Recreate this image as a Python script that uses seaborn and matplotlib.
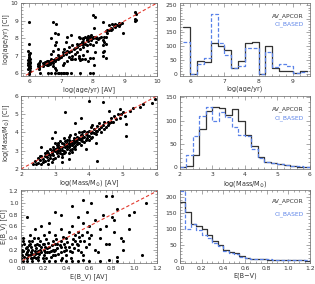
import numpy as np
import pandas as pd
import matplotlib
matplotlib.use("Agg")
import matplotlib.pyplot as plt
from matplotlib.ticker import AutoMinorLocator
import seaborn as sns

sns.set_style("ticks")
plt.rcParams['font.family'] = ['DejaVu Sans']

# ---- scatter data (x = AV_APCOR, y = CI_BASED) ----
age_pts = [
    (6.0,5.95),(6.0,6.05),(6.02,6.15),(5.98,6.25),(6.0,6.35),(6.02,6.4),(5.98,6.5),(6.0,6.55),
    (6.02,6.6),(6.0,6.7),(5.98,6.75),(6.02,6.85),(6.0,6.95),(6.0,7.05),(6.02,7.15),(5.98,7.25),
    (6.0,7.65),(6.0,8.92),(6.0,6.45),(6.03,6.65),
    (6.3,6.25),(6.3,6.35),(6.32,6.45),(6.28,6.55),(6.3,6.6),(6.33,6.7),(6.35,6.05),(6.3,6.5),
    (6.45,6.45),(6.5,6.55),(6.55,6.5),(6.6,6.6),(6.65,6.7),(6.7,6.65),(6.75,6.75),(6.8,6.8),
    (6.85,6.9),(6.9,6.85),(6.95,7.0),(7.0,6.95),(6.5,6.65),(6.6,6.5),(6.7,6.8),(6.8,6.7),
    (6.9,7.05),(6.55,6.7),(6.65,6.55),(6.45,6.6),
    (6.7,6.0),(6.8,6.02),(6.9,6.0),(7.0,6.02),(7.1,6.0),(7.2,6.02),(7.3,6.0),(6.95,6.05),
    (7.15,6.05),(6.6,6.05),(7.05,6.0),(7.6,6.0),(7.9,6.02),
    (6.75,7.3),(6.8,7.6),(6.85,7.8),(6.7,8.0),(6.8,8.3),(6.9,8.25),(6.75,8.95),(6.85,8.8),
    (6.7,7.1),(6.9,7.4),(6.8,6.3),(6.85,6.2),(6.75,6.4),
    (7.05,7.2),(7.1,7.4),(7.15,7.1),(7.2,7.25),(7.25,7.5),(7.3,7.3),(7.35,7.6),(7.1,6.6),
    (7.2,6.7),(7.3,6.8),(7.05,6.5),(7.25,6.95),(7.35,7.0),(7.15,7.8),(7.2,8.1),(7.3,8.2),(7.4,7.4),
    (7.5,7.5),(7.55,7.6),(7.6,7.7),(7.65,7.65),(7.7,7.8),(7.75,7.7),(7.8,7.9),(7.85,7.85),
    (7.9,7.95),(7.95,8.0),(7.6,7.4),(7.7,7.5),(7.8,7.6),(7.5,7.2),(7.55,6.9),(7.65,6.8),
    (7.75,6.85),(7.85,6.7),(7.9,6.9),(7.6,6.75),(7.7,7.05),(7.8,7.25),(7.45,6.8),(7.55,7.0),
    (7.6,8.0),(7.7,8.02),(7.8,8.0),(7.9,8.05),(8.0,8.0),(8.1,8.02),(8.2,8.0),(7.75,8.1),
    (7.85,8.15),(7.95,8.2),(8.05,8.1),
    (8.0,9.3),(8.05,9.2),(8.02,8.6),(8.0,7.6),(8.05,7.2),(8.0,6.9),(8.02,6.5),(8.0,6.05),(8.1,7.8),
    (8.3,7.9),(8.35,7.8),(8.3,7.6),(8.4,7.7),(8.35,7.3),(8.3,7.0),(8.4,6.9),(8.3,7.2),(8.4,8.1),(8.35,8.05),
    (8.4,8.4),(8.45,8.5),(8.5,8.45),(8.55,8.6),(8.6,8.55),(8.65,8.7),(8.7,8.65),(8.75,8.75),
    (8.8,8.7),(8.85,8.8),(8.5,8.75),(8.6,8.8),(8.45,8.3),(8.9,8.85),(8.95,8.3),(8.3,8.9),
    (9.3,9.0),(9.32,9.1),(9.35,9.4),(9.3,9.5),(9.35,9.05),
    (6.02,6.3),(5.98,6.6),(6.0,6.9),(6.0,7.1),(6.32,6.3),(6.28,6.4),(6.6,6.7),(6.7,6.7),
    (6.75,6.6),(6.85,6.8),(6.95,6.9),(7.05,7.05),(7.15,7.2),(7.25,7.2),(7.45,7.45),(7.5,7.65),
    (7.65,7.8),(7.7,7.95),(7.85,7.95),(7.95,7.9),(8.1,8.1),(8.0,8.1),(7.9,7.7),(7.7,7.7),
    (8.25,8.05),(8.15,7.95),(7.55,8.05),(7.45,7.1),(7.35,6.85),(8.55,8.45),(8.7,8.8),(8.8,8.85),
]

mass_pts = [
    (2.35,2.3),(2.4,2.45),(2.45,2.25),(2.5,2.6),(2.5,2.35),(2.55,2.5),(2.6,2.7),(2.6,2.3),
    (2.65,2.55),(2.7,2.9),(2.7,2.45),(2.75,2.65),(2.75,3.0),(2.8,2.5),(2.8,2.8),(2.85,3.1),
    (2.85,2.6),(2.9,2.9),(2.9,2.4),(2.95,3.2),(2.95,2.75),(3.0,3.0),(3.0,2.6),(3.0,3.4),
    (3.05,2.85),(3.05,3.15),(3.1,3.3),(3.1,2.7),(3.1,3.0),(3.15,3.55),(3.15,2.9),(3.2,3.2),
    (3.2,2.8),(3.2,3.45),(3.25,3.0),(3.25,3.7),(3.3,3.3),(3.3,2.95),(3.3,3.55),(3.35,3.1),
    (3.35,3.4),(3.4,3.6),(3.4,3.2),(3.4,2.9),(3.45,3.5),(3.45,3.85),(3.5,3.3),(3.5,3.55),
    (3.5,3.1),(3.55,3.7),(3.55,3.4),(3.6,3.6),(3.6,3.25),(3.6,3.9),(3.65,3.5),(3.65,3.75),
    (3.7,3.4),(3.7,3.7),(3.7,4.05),(3.75,3.6),(3.75,3.3),(3.8,3.85),(3.8,3.55),(3.85,3.75),
    (3.85,4.1),(3.9,3.9),(3.9,3.6),(3.95,4.0),(3.95,3.7),(4.0,4.1),(4.0,3.8),(4.05,3.95),
    (4.05,4.3),(4.1,4.05),(4.1,3.75),(4.15,4.2),(4.2,4.1),(4.2,3.9),(4.25,4.35),(4.3,4.2),
    (4.3,4.5),(4.35,4.0),(4.4,4.4),(4.45,4.55),(4.5,4.3),(4.55,4.6),(4.6,4.5),(4.65,4.8),
    (4.7,4.6),(4.8,4.75),(4.85,5.0),(4.9,4.8),(5.0,5.1),(5.05,4.9),(5.2,5.2),(5.3,5.35),
    (5.5,5.4),(5.6,5.55),(5.95,5.85),(5.85,5.6),
    (4.0,5.7),(4.4,5.65),(3.3,5.1),(3.75,4.8),(3.6,4.5),(3.0,4.0),(2.9,3.7),(2.6,3.2),
    (5.1,3.8),(4.25,2.45),(4.6,5.2),(4.9,5.3),(5.1,4.45),(4.2,3.4),(3.9,3.1),(3.4,2.55),
    (2.8,2.25),(3.2,2.4),
    (3.0,3.1),(3.1,3.15),(3.2,3.05),(3.3,3.2),(3.4,3.35),(3.5,3.45),(3.6,3.55),(3.7,3.65),
    (3.8,3.7),(2.9,3.0),(2.8,2.9),(2.7,2.7),(3.35,3.25),(3.45,3.3),(3.55,3.6),(3.65,3.65),
    (3.25,3.35),(3.15,3.2),(3.05,3.0),(2.95,3.05),
    (2.55,2.7),(2.65,2.4),(2.75,2.85),(2.85,2.75),(2.95,2.55),(3.05,3.3),(3.15,3.05),(3.25,2.85),
    (3.35,3.6),(3.45,3.05),(3.55,3.2),(3.65,3.35),(3.75,3.85),(3.85,3.5),(3.95,3.85),(4.05,3.7),
    (4.15,3.95),(4.25,4.1),(4.35,4.3),(4.45,4.2),(4.55,4.4),(4.65,4.55),(4.75,4.9),(4.95,5.0),
    (3.1,3.45),(3.2,2.65),(3.4,3.75),(3.5,2.95),(3.6,3.1),(3.8,4.0),(4.0,3.6),(4.1,4.4),
]

ebv_pts = [
    (0.02,0.0),(0.05,0.01),(0.1,0.0),(0.15,0.02),(0.2,0.0),(0.25,0.01),(0.3,0.0),(0.35,0.02),
    (0.4,0.0),(0.45,0.01),(0.5,0.0),(0.55,0.02),(0.6,0.01),(0.7,0.0),(0.78,0.02),(0.85,0.0),
    (0.0,0.05),(0.01,0.1),(0.0,0.15),(0.01,0.2),(0.0,0.28),(0.02,0.35),
    (0.05,0.05),(0.05,0.15),(0.05,0.25),(0.08,0.1),(0.08,0.3),(0.1,0.05),(0.1,0.2),(0.1,0.35),
    (0.12,0.12),(0.12,0.28),(0.15,0.08),(0.15,0.18),(0.15,0.4),(0.18,0.15),(0.18,0.25),(0.2,0.1),
    (0.2,0.2),(0.2,0.3),(0.2,0.45),(0.22,0.05),(0.22,0.38),(0.25,0.15),(0.25,0.25),(0.25,0.5),
    (0.28,0.2),(0.28,0.35),(0.3,0.1),(0.3,0.3),(0.3,0.45),(0.32,0.22),(0.35,0.15),(0.35,0.35),
    (0.35,0.55),(0.38,0.3),(0.4,0.2),(0.4,0.4),(0.4,0.1),(0.42,0.5),(0.45,0.3),(0.45,0.6),
    (0.48,0.45),(0.5,0.2),(0.5,0.5),(0.52,0.35),(0.55,0.65),(0.55,0.1),(0.58,0.5),(0.6,0.3),
    (0.6,0.6),(0.62,0.45),(0.65,0.7),(0.65,0.2),(0.7,0.55),(0.7,0.4),(0.72,0.8),(0.75,0.6),
    (0.78,0.3),(0.8,0.75),(0.82,0.5),(0.85,0.9),(0.88,0.4),(0.9,0.35),(0.95,0.8),(1.0,0.85),
    (1.07,0.1),(1.1,1.0),(0.75,1.12),(0.8,1.12),(0.62,1.0),(0.55,1.05),(0.45,0.95),(0.35,0.8),
    (0.3,0.85),(0.05,0.75),(0.25,0.65),(0.18,0.6),(0.12,0.55),(0.08,0.45),(0.02,0.4),(0.9,0.2),
    (0.75,0.3),(0.68,0.15),(0.95,0.55),(0.85,0.08),(0.82,0.7),(0.5,0.75),(0.58,0.85),
    (0.03,0.08),(0.06,0.2),(0.09,0.15),(0.11,0.08),(0.13,0.22),(0.14,0.3),(0.16,0.12),(0.17,0.35),
    (0.19,0.05),(0.21,0.25),(0.23,0.15),(0.24,0.32),(0.26,0.08),(0.27,0.28),(0.29,0.18),(0.31,0.38),
    (0.33,0.12),(0.34,0.27),(0.36,0.05),(0.37,0.42),(0.39,0.25),(0.41,0.33),(0.43,0.18),(0.44,0.05),
    (0.46,0.38),(0.47,0.22),(0.49,0.3),(0.51,0.42),(0.53,0.15),(0.56,0.35),(0.57,0.25),(0.03,0.3),
    (0.07,0.35),(0.09,0.25),(0.11,0.4),(0.13,0.05),(0.16,0.28),(0.04,0.12),
    (0.02,0.18),(0.04,0.22),(0.06,0.1),(0.07,0.28),(0.09,0.05),(0.1,0.12),(0.12,0.18),(0.14,0.14),
    (0.17,0.2),(0.19,0.3),(0.21,0.15),(0.23,0.22),(0.26,0.18),(0.28,0.1),(0.3,0.2),(0.32,0.3),
    (0.35,0.25),(0.38,0.18),(0.42,0.25),(0.45,0.15),(0.48,0.35),(0.5,0.28),(0.54,0.45),(0.6,0.4),
]

# ---- histogram data: bin edges and counts ----
age_edges = [5.8, 6.0, 6.2, 6.4, 6.6, 6.8, 7.0, 7.2, 7.4, 7.6, 7.8, 8.0, 8.2, 8.4, 8.6, 8.8, 9.0, 9.2, 9.4]
age_av = [170, 0, 47, 42, 112, 102, 85, 20, 47, 113, 117, 0, 102, 22, 10, 10, 3, 10]
age_ci = [115, 0, 37, 57, 215, 110, 70, 20, 30, 95, 92, 0, 78, 25, 37, 28, 3, 8]

mass_edges = [2.0, 2.2, 2.4, 2.6, 2.8, 3.0, 3.2, 3.4, 3.6, 3.8, 4.0, 4.2, 4.4, 4.6, 4.8, 5.0, 5.2, 5.4, 5.6, 5.8, 6.0]
mass_av = [0, 3, 27, 82, 120, 130, 127, 113, 125, 100, 70, 45, 22, 12, 8, 6, 4, 3, 1, 0]
mass_ci = [0, 25, 68, 110, 130, 100, 118, 108, 87, 70, 68, 38, 20, 10, 8, 6, 5, 3, 2, 0]

ebv_edges = [round(0.05 * i, 2) for i in range(25)]
ebv_av = [185, 152, 115, 108, 100, 80, 63, 48, 35, 27, 23, 15, 10, 6, 5, 4, 3, 3, 2, 2, 1, 1, 1, 0]
ebv_ci = [220, 100, 115, 95, 80, 72, 55, 45, 30, 25, 20, 12, 8, 5, 5, 4, 4, 3, 2, 2, 3, 2, 1, 1]

FS = 4.3
TXT = '#333333'
BLUE = '#5a82e8'

fig = plt.figure(figsize=(3.15, 2.84), dpi=100)

left_x, left_w = 0.067, 0.431
right_x, right_w = 0.571, 0.413
rows = [0.732, 0.405, 0.074]
h = 0.257


def style(ax):
    for s in ax.spines.values():
        s.set_linewidth(0.5)
        s.set_color('#666666')
    ax.xaxis.set_minor_locator(AutoMinorLocator())
    ax.yaxis.set_minor_locator(AutoMinorLocator())
    ax.tick_params(which='both', direction='in', top=True, right=True,
                   width=0.4, colors='#666666', labelcolor=TXT, labelsize=FS, pad=2)
    ax.tick_params(which='major', length=3)
    ax.tick_params(which='minor', length=1.5)


def scatter_panel(pos, pts, xlim, ylim, ticks, xlab, ylab, fmt=None):
    ax = fig.add_axes(pos)
    df = pd.DataFrame(pts, columns=['av', 'ci'])
    sns.scatterplot(data=df, x='av', y='ci', ax=ax, color='black', s=5, linewidth=0)
    lo, hi = min(xlim[0], ylim[0]), max(xlim[1], ylim[1])
    ax.plot([lo, hi], [lo, hi], color='#e23a2e', lw=0.8, ls=(0, (3, 2)))
    ax.set_xlim(xlim)
    ax.set_ylim(ylim)
    ax.set_xticks(ticks)
    ax.set_yticks(ticks)
    if fmt:
        ax.set_xticklabels([fmt % t for t in ticks])
        ax.set_yticklabels([fmt % t for t in ticks])
    ax.set_xlabel(xlab, fontsize=FS + 0.4, color=TXT, labelpad=1.5)
    ax.set_ylabel(ylab, fontsize=FS + 0.4, color=TXT, labelpad=1.5)
    style(ax)
    return ax


def hist_panel(pos, edges, av, ci, xlim, ylim, xticks, yticks, xlab, ty, fmt=None):
    ax = fig.add_axes(pos)
    centers = [(a + b) / 2 for a, b in zip(edges[:-1], edges[1:])]
    df = pd.DataFrame({'c': centers, 'av': av, 'ci': ci})
    sns.histplot(data=df, x='c', weights='av', bins=edges, element='step', fill=False,
                 color='#333333', linewidth=0.9, ax=ax)
    sns.histplot(data=df, x='c', weights='ci', bins=edges, element='step', fill=False,
                 color=BLUE, linewidth=0.9, linestyle=(0, (3, 1.5)), ax=ax)
    ax.set_xlim(xlim)
    ax.set_ylim(ylim)
    ax.set_xticks(xticks)
    ax.set_yticks(yticks)
    if fmt:
        ax.set_xticklabels([fmt % t for t in xticks])
    ax.set_xlabel(xlab, fontsize=FS + 0.4, color=TXT, labelpad=1.5)
    ax.set_ylabel('')
    ax.text(0.95, ty[0], 'AV_APCOR', transform=ax.transAxes, ha='right', va='center',
            fontsize=FS, color=TXT)
    ax.text(0.95, ty[1], 'CI_BASED', transform=ax.transAxes, ha='right', va='center',
            fontsize=FS, color=BLUE)
    style(ax)
    return ax


scatter_panel([left_x, rows[0], left_w, h], age_pts, (5.75, 10), (5.85, 10),
              [6, 7, 8, 9, 10], 'log(age/yr) [AV]', 'log(age/yr) [CI]')
scatter_panel([left_x, rows[1], left_w, h], mass_pts, (2, 6), (2, 6),
              [2, 3, 4, 5, 6], r'log(Mass/M$_{\odot}$) [AV]', r'log(Mass/M$_{\odot}$) [CI]')
scatter_panel([left_x, rows[2], left_w, h], ebv_pts, (0, 1.2), (-0.03, 1.22),
              [0.0, 0.2, 0.4, 0.6, 0.8, 1.0, 1.2], 'E(B_V) [AV]', 'E(B_V) [CI]', fmt='%.1f')

hist_panel([right_x, rows[0], right_w, h], age_edges, age_av, age_ci, (5.7, 9.5), (-8, 256),
           [6, 7, 8, 9], [0, 50, 100, 150, 200, 250], 'log(age/yr)', (0.82, 0.71))
hist_panel([right_x, rows[1], right_w, h], mass_edges, mass_av, mass_ci, (2, 6), (-4, 153),
           [2, 3, 4, 5, 6], [0, 50, 100, 150], r'log(Mass/M$_{\odot}$)', (0.82, 0.69))
hist_panel([right_x, rows[2], right_w, h], ebv_edges, ebv_av, ebv_ci, (0, 1.2), (-7, 222),
           [0.0, 0.2, 0.4, 0.6, 0.8, 1.0, 1.2], [0, 50, 100, 150, 200], 'E(B\u2212V)',
           (0.85, 0.67), fmt='%.1f')

fig.savefig('out.png', dpi=100)
